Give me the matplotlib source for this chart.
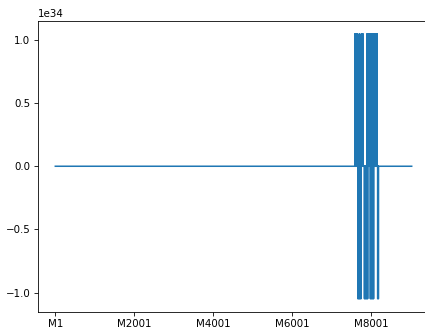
import numpy as np
import matplotlib
matplotlib.use("Agg")
import matplotlib.pyplot as plt

# Series length and category labels (M1 ... M9030)
n_points = 9030
labels = [f"M{i + 1}" for i in range(n_points)]

# The series is zero everywhere except for short bursts of huge spikes
peak = 1.049e34
up_idx = [7590, 7610, 7630, 7650, 7660, 7710, 7760, 7780, 7795,
          7895, 7915, 7935, 7955, 7975, 7995, 8015, 8035, 8055,
          8075, 8095, 8115, 8135, 8155]
down_idx = [7665, 7685, 7705, 7725, 7745,
            7833, 7853, 7873, 7893, 7913,
            7983, 8003, 8023, 8043, 8063,
            8168, 8185]
up_val = [peak] * len(up_idx)
down_val = [-peak] * len(down_idx)

values = np.zeros(n_points)
values[up_idx] = up_val
values[down_idx] = down_val

tick_pos = [0, 2000, 4000, 6000, 8000]

dpi = 74
fig = plt.figure(figsize=(425 / dpi, 333 / dpi), dpi=dpi)
W, H = 425, 333
ax = fig.add_axes([37.5 / W, 1 - 312 / H, 392 / W, (312 - 20.5) / H])

x = np.arange(n_points)
ax.plot(x, values, color="#1f77b4", linewidth=1.5)
ax.set_xticks(tick_pos)
ax.set_xticklabels([labels[p] for p in tick_pos])

fig.savefig("out.png", dpi=dpi)
